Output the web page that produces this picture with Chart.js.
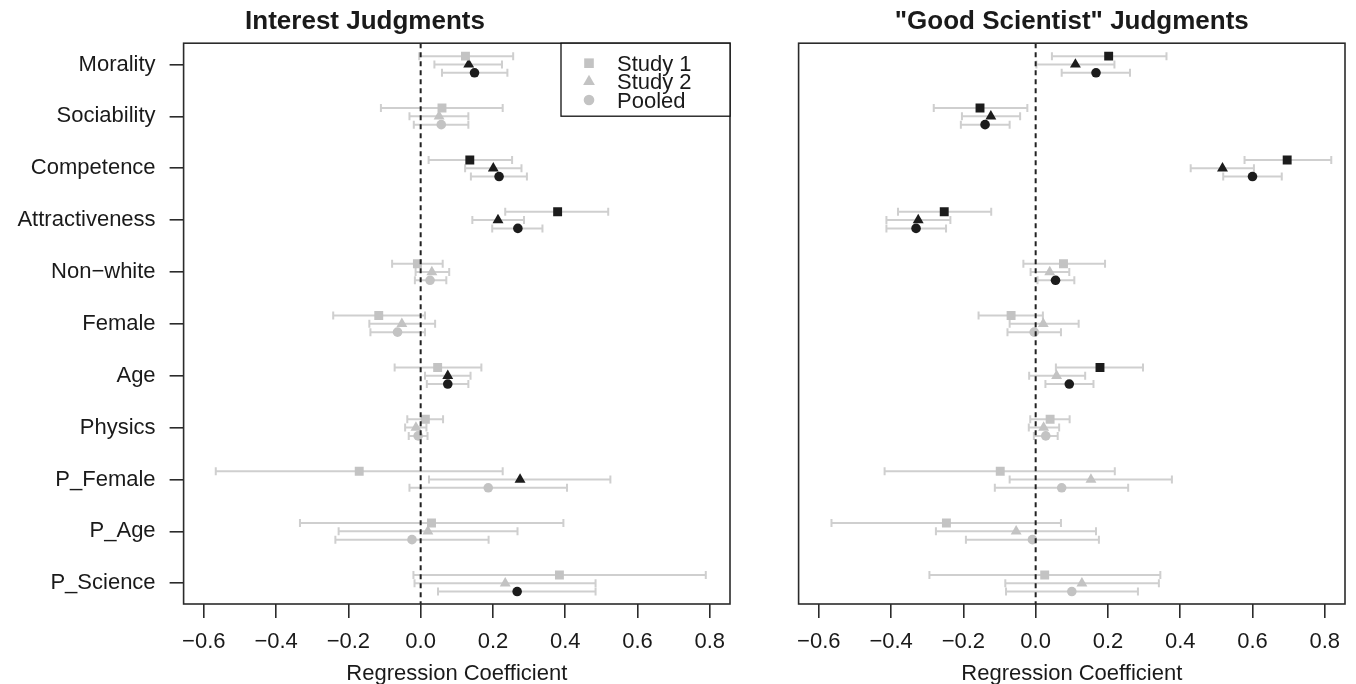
<!DOCTYPE html>
<html>
<head>
<meta charset="utf-8">
<script src="https://cdn.jsdelivr.net/npm/chart.js@4.4.1/dist/chart.umd.min.js"></script>
<style>
  html, body { margin: 0; padding: 0; background: #ffffff; }
  body { width: 1356px; height: 684px; position: relative; overflow: hidden; }
  canvas { position: absolute; top: 0; }
  #c1 { left: 0px; }
  #c2 { left: 778px; }
</style>
</head>
<body>
<canvas id="c1" width="914" height="684"></canvas>
<canvas id="c2" width="588" height="684"></canvas>
<script>
// ---------- data ----------
const categories = ["Morality", "Sociability", "Competence", "Attractiveness", "Non\u2212white",
  "Female", "Age", "Physics", "P_Female", "P_Age", "P_Science"];
const xTicks = [-0.6, -0.4, -0.2, 0.0, 0.2, 0.4, 0.6, 0.8];
const seriesNames = ["Study 1", "Study 2", "Pooled"];

// Interest Judgments
const intS1 = [0.124, 0.059, 0.136, 0.379, -0.009, -0.116, 0.047, 0.013, -0.170, 0.030, 0.384];
const intS1Lo = [-0.004, -0.110, 0.022, 0.234, -0.079, -0.242, -0.072, -0.037, -0.567, -0.334, -0.020];
const intS1Hi = [0.256, 0.227, 0.253, 0.519, 0.061, 0.012, 0.168, 0.062, 0.227, 0.395, 0.789];
const intS1Sig = [0, 0, 1, 1, 0, 0, 0, 0, 0, 0, 0];

const intS2 = [0.133, 0.051, 0.201, 0.214, 0.031, -0.052, 0.075, -0.013, 0.275, 0.020, 0.234];
const intS2Lo = [0.038, -0.031, 0.123, 0.143, -0.014, -0.142, 0.012, -0.043, 0.023, -0.227, -0.017];
const intS2Hi = [0.225, 0.132, 0.279, 0.286, 0.079, 0.040, 0.138, 0.016, 0.525, 0.268, 0.484];
const intS2Sig = [1, 0, 1, 1, 0, 0, 1, 0, 1, 0, 0];

const intPool = [0.149, 0.057, 0.217, 0.269, 0.026, -0.064, 0.075, -0.007, 0.187, -0.024, 0.267];
const intPoolLo = [0.059, -0.019, 0.139, 0.198, -0.016, -0.139, 0.017, -0.033, -0.031, -0.236, 0.048];
const intPoolHi = [0.240, 0.132, 0.294, 0.337, 0.071, 0.012, 0.132, 0.019, 0.405, 0.188, 0.484];
const intPoolSig = [1, 0, 1, 1, 0, 0, 1, 0, 0, 0, 1];

// "Good Scientist" Judgments
const gsS1 = [0.202, -0.154, 0.696, -0.253, 0.077, -0.068, 0.178, 0.040, -0.098, -0.247, 0.025];
const gsS1Lo = [0.045, -0.282, 0.578, -0.381, -0.034, -0.158, 0.056, -0.015, -0.418, -0.565, -0.294];
const gsS1Hi = [0.362, -0.023, 0.818, -0.123, 0.192, 0.020, 0.297, 0.094, 0.219, 0.070, 0.345];
const gsS1Sig = [1, 1, 1, 1, 0, 0, 1, 0, 0, 0, 0];

const gsS2 = [0.110, -0.124, 0.517, -0.325, 0.039, 0.021, 0.058, 0.022, 0.153, -0.054, 0.128];
const gsS2Lo = [0.002, -0.204, 0.429, -0.413, -0.014, -0.072, -0.018, -0.019, -0.072, -0.276, -0.084];
const gsS2Hi = [0.218, -0.043, 0.604, -0.236, 0.093, 0.119, 0.137, 0.065, 0.377, 0.167, 0.341];
const gsS2Sig = [1, 1, 1, 1, 0, 0, 0, 0, 0, 0, 0];

const gsPool = [0.167, -0.140, 0.600, -0.331, 0.055, -0.004, 0.093, 0.028, 0.072, -0.009, 0.100];
const gsPoolLo = [0.072, -0.207, 0.519, -0.413, 0.005, -0.078, 0.027, -0.005, -0.113, -0.193, -0.082];
const gsPoolHi = [0.261, -0.072, 0.681, -0.248, 0.107, 0.070, 0.160, 0.061, 0.256, 0.175, 0.283];
const gsPoolSig = [1, 1, 1, 1, 1, 0, 1, 0, 0, 0, 0];

// ---------- style ----------
const BLACK = '#1c1c1c';
const GRAY = '#c3c3c3';
const BAR = '#cfcfcf';
const FRAME = '#2b2b2b';
const FONT = "'Liberation Sans', Arial, Helvetica, sans-serif";
const OFFSETS = [-0.16, 0, 0.16];
const STYLES = [
  { pointStyle: 'rect', radius: 6.3 },
  { pointStyle: 'triangle', radius: 6.3 },
  { pointStyle: 'circle', radius: 4.8 }
];

Chart.defaults.font.family = FONT;
Chart.defaults.color = '#1a1a1a';

function fmtTick(v) {
  const s = Number(v).toFixed(1);
  return s.replace('-', '\u2212');
}

function makeDataset(k, est, lo, hi, sig) {
  const cols = sig.map(s => s ? BLACK : GRAY);
  return {
    label: seriesNames[k],
    data: categories.map((c, i) => ({ x: est[i], y: i + 1 + OFFSETS[k] })),
    lo: lo, hi: hi,
    pointStyle: STYLES[k].pointStyle,
    pointRadius: STYLES[k].radius,
    pointBackgroundColor: cols,
    pointBorderColor: cols,
    pointBorderWidth: 0,
    showLine: false
  };
}

const errorBars = {
  id: 'errorBars',
  beforeDatasetsDraw(chart) {
    const ctx = chart.ctx, xs = chart.scales.x, ys = chart.scales.y;
    ctx.save();
    ctx.strokeStyle = BAR;
    ctx.lineWidth = 2;
    chart.data.datasets.forEach(ds => {
      ds.data.forEach((p, i) => {
        const y = ys.getPixelForValue(p.y);
        const x1 = xs.getPixelForValue(ds.lo[i]);
        const x2 = xs.getPixelForValue(ds.hi[i]);
        ctx.beginPath();
        ctx.moveTo(x1, y); ctx.lineTo(x2, y);
        ctx.moveTo(x1, y - 4); ctx.lineTo(x1, y + 4);
        ctx.moveTo(x2, y - 4); ctx.lineTo(x2, y + 4);
        ctx.stroke();
      });
    });
    ctx.restore();
  }
};

const zeroLine = {
  id: 'zeroLine',
  afterDatasetsDraw(chart) {
    const ctx = chart.ctx, a = chart.chartArea;
    const x = chart.scales.x.getPixelForValue(0);
    ctx.save();
    ctx.strokeStyle = '#222';
    ctx.lineWidth = 2;
    ctx.setLineDash([5, 4]);
    ctx.beginPath();
    ctx.moveTo(x, a.top); ctx.lineTo(x, a.bottom);
    ctx.stroke();
    ctx.restore();
  }
};

const frame = {
  id: 'frame',
  afterDraw(chart) {
    const ctx = chart.ctx, a = chart.chartArea;
    ctx.save();
    ctx.strokeStyle = FRAME;
    ctx.lineWidth = 1.6;
    ctx.strokeRect(a.left, a.top, a.right - a.left, a.bottom - a.top);
    ctx.restore();
  }
};

const boxLegend = {
  id: 'boxLegend',
  afterDraw(chart) {
    const ctx = chart.ctx, a = chart.chartArea;
    const w = 169, h = 73;
    const left = a.right - w, top = a.top;
    ctx.save();
    ctx.fillStyle = '#ffffff';
    ctx.fillRect(left, top, w, h);
    ctx.strokeStyle = '#111';
    ctx.lineWidth = 1.3;
    ctx.strokeRect(left, top, w, h);
    ctx.font = '22px ' + FONT;
    ctx.textBaseline = 'middle';
    ctx.textAlign = 'left';
    chart.data.datasets.forEach((ds, k) => {
      const y = top + 20 + k * 18.4;
      ctx.fillStyle = GRAY;
      ctx.strokeStyle = GRAY;
      ctx.lineWidth = 0;
      Chart.helpers.drawPoint(ctx, { pointStyle: ds.pointStyle, radius: ds.pointRadius + 0.5, rotation: 0, borderWidth: 0 }, left + 28, y);
      ctx.fillStyle = '#1a1a1a';
      ctx.fillText(ds.label, left + 56, y + 1.5);
    });
    ctx.restore();
  }
};

function makeChart(canvasId, title, sets, showY, padding, withLegend) {
  const plugins = [errorBars, zeroLine, frame];
  if (withLegend) plugins.push(boxLegend);
  return new Chart(document.getElementById(canvasId), {
    type: 'scatter',
    data: { datasets: sets },
    options: {
      responsive: false,
      animation: false,
      events: [],
      layout: { padding: padding },
      plugins: {
        legend: { display: false },
        tooltip: { enabled: false },
        title: {
          display: true,
          text: title,
          font: { size: 26, weight: 'bold', family: FONT },
          color: '#1a1a1a',
          padding: { top: 6, bottom: 6 }
        }
      },
      scales: {
        x: {
          type: 'linear',
          min: -0.656, max: 0.856,
          afterBuildTicks(scale) { scale.ticks = xTicks.map(v => ({ value: v })); },
          afterFit(scale) { scale.height = 80; },
          ticks: {
            callback: v => fmtTick(v),
            font: { size: 22 },
            color: '#1a1a1a',
            padding: 11,
            autoSkip: false,
            maxRotation: 0
          },
          grid: { drawOnChartArea: false, drawTicks: true, tickLength: 14, color: FRAME, lineWidth: 1.6 },
          border: { display: false },
          title: {
            display: true,
            text: 'Regression Coefficient',
            font: { size: 22 },
            color: '#1a1a1a',
            padding: { top: 0, bottom: -3 }
          }
        },
        y: {
          type: 'linear',
          display: showY,
          reverse: true,
          min: 0.59, max: 11.4,
          afterBuildTicks(scale) { scale.ticks = categories.map((c, i) => ({ value: i + 1 })); },
          afterFit(scale) { if (showY) scale.width = 183.6; },
          ticks: {
            callback: v => categories[Math.round(v) - 1],
            font: { size: 22 },
            color: '#1a1a1a',
            padding: 14,
            autoSkip: false
          },
          grid: { drawOnChartArea: false, drawTicks: true, tickLength: 14, color: FRAME, lineWidth: 1.6 },
          border: { display: false }
        }
      }
    },
    plugins: plugins
  });
}

makeChart('c1', 'Interest Judgments', [
  makeDataset(0, intS1, intS1Lo, intS1Hi, intS1Sig),
  makeDataset(1, intS2, intS2Lo, intS2Hi, intS2Sig),
  makeDataset(2, intPool, intPoolLo, intPoolHi, intPoolSig)
], true, { left: 0, right: 184, top: 0, bottom: 0 }, true);

makeChart('c2', '"Good Scientist" Judgments', [
  makeDataset(0, gsS1, gsS1Lo, gsS1Hi, gsS1Sig),
  makeDataset(1, gsS2, gsS2Lo, gsS2Hi, gsS2Sig),
  makeDataset(2, gsPool, gsPoolLo, gsPoolHi, gsPoolSig)
], false, { left: 20.6, right: 21, top: 0, bottom: 0 }, false);
</script>
</body>
</html>
